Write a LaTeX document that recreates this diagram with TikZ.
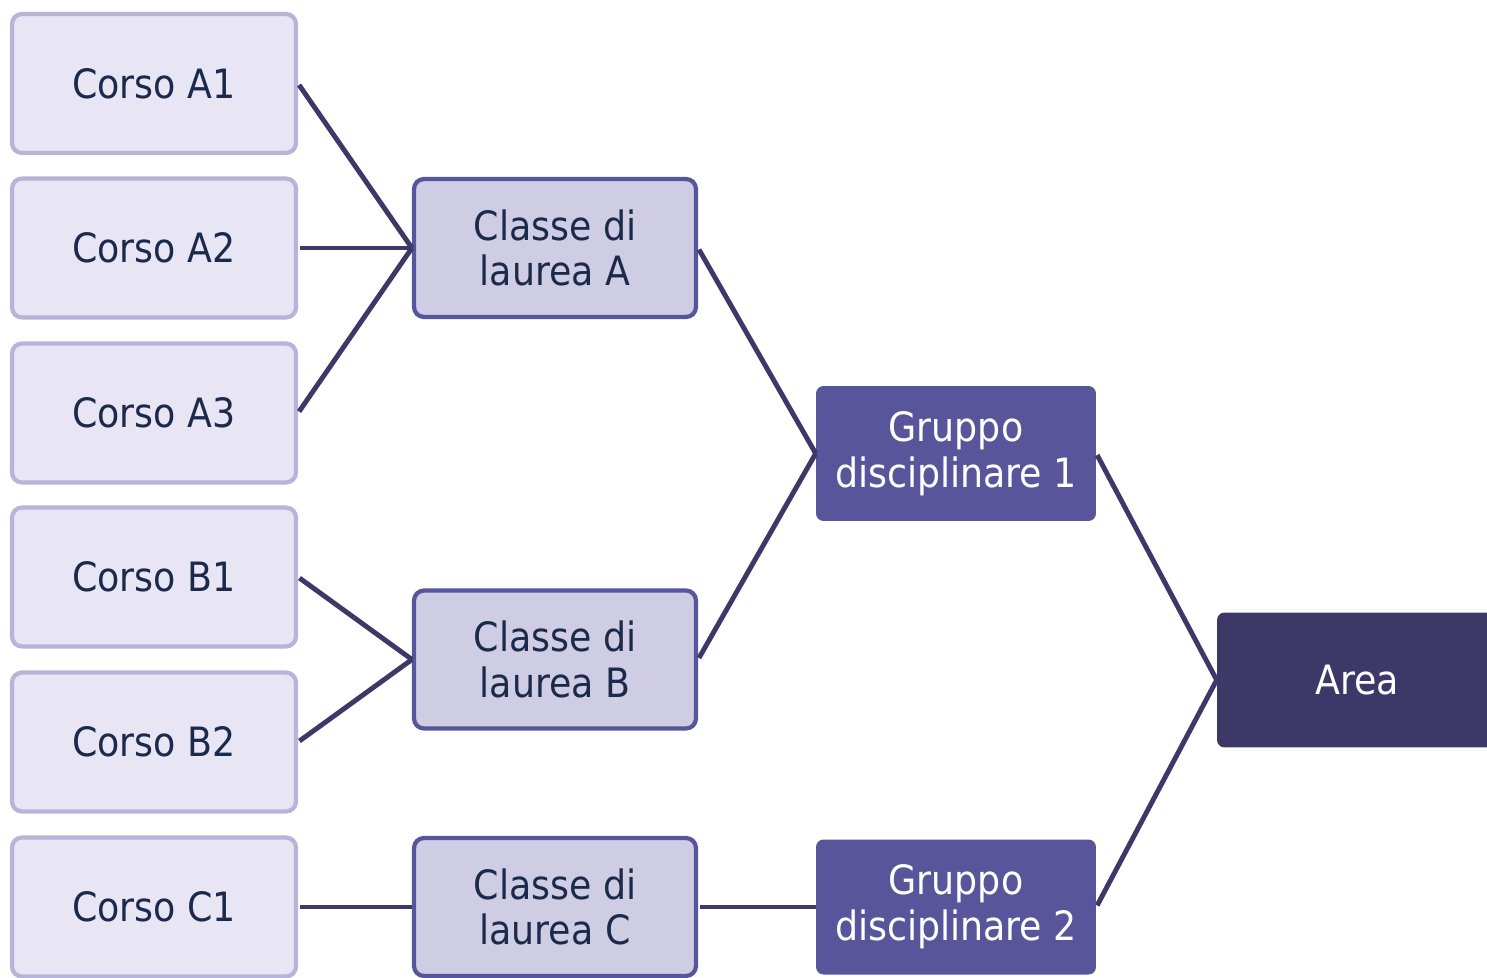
\documentclass[tikz,border=0pt]{standalone}
\usepackage{fontspec}
\setmainfont{DejaVu Sans Condensed}
\definecolor{corsofill}{HTML}{E8E6F4}
\definecolor{corsoline}{HTML}{B7B4D9}
\definecolor{classefill}{HTML}{CFCDE4}
\definecolor{classeline}{HTML}{57559C}
\definecolor{gruppofill}{HTML}{58559B}
\definecolor{areafill}{HTML}{3C3868}
\definecolor{scritta}{HTML}{1B2A4A}
\tikzset{
  box/.style={rounded corners=0.2cm, align=center, text=scritta, font=\fontsize{23}{26}\selectfont},
  corso/.style={box, draw=corsoline, fill=corsofill, line width=2.4pt, minimum width=5.68cm, minimum height=2.78cm},
  classe/.style={box, draw=classeline, fill=classefill, line width=2.4pt, minimum width=5.64cm, minimum height=2.76cm},
  gruppo/.style={box, fill=gruppofill, text=white, rounded corners=0.15cm, minimum width=5.6cm, minimum height=2.7cm},
  area/.style={gruppo, fill=areafill},
  link/.style={draw=areafill, line width=2.8pt, shorten <=1pt}
}
\begin{document}
\begin{tikzpicture}[x=0.02cm, y=-0.02cm]
  \useasboundingbox (0,0) rectangle (1487,977);
  \node[corso] (a1) at (154,83.5) {Corso A1};
  \node[corso] (a2) at (154,248) {Corso A2};
  \node[corso] (a3) at (154,413) {Corso A3};
  \node[corso] (b1) at (154,577) {Corso B1};
  \node[corso] (b2) at (154,742) {Corso B2};
  \node[corso] (c1) at (154,907) {Corso C1};
  \node[classe] (ca) at (555,248) {Classe di\\laurea A};
  \node[classe] (cb) at (555,659.5) {Classe di\\laurea B};
  \node[classe] (cc) at (555,907) {Classe di\\laurea C};
  \node[gruppo] (g1) at (956,453.5) {Gruppo\\disciplinare 1};
  \node[gruppo] (g2) at (956,907) {Gruppo\\disciplinare 2};
  \node[area] (ar) at (1357,680) {Area};
  \foreach \c in {a1,a2,a3} \draw[link] (\c.east) -- (ca.west);
  \foreach \c in {b1,b2} \draw[link] (\c.east) -- (cb.west);
  \draw[link] (c1.east) -- (cc.west);
  \foreach \c in {ca,cb} \draw[link] (\c.east) -- (g1.west);
  \draw[link] (cc.east) -- (g2.west);
  \foreach \g in {g1,g2} \draw[link] (\g.east) -- (ar.west);
\end{tikzpicture}
\end{document}
